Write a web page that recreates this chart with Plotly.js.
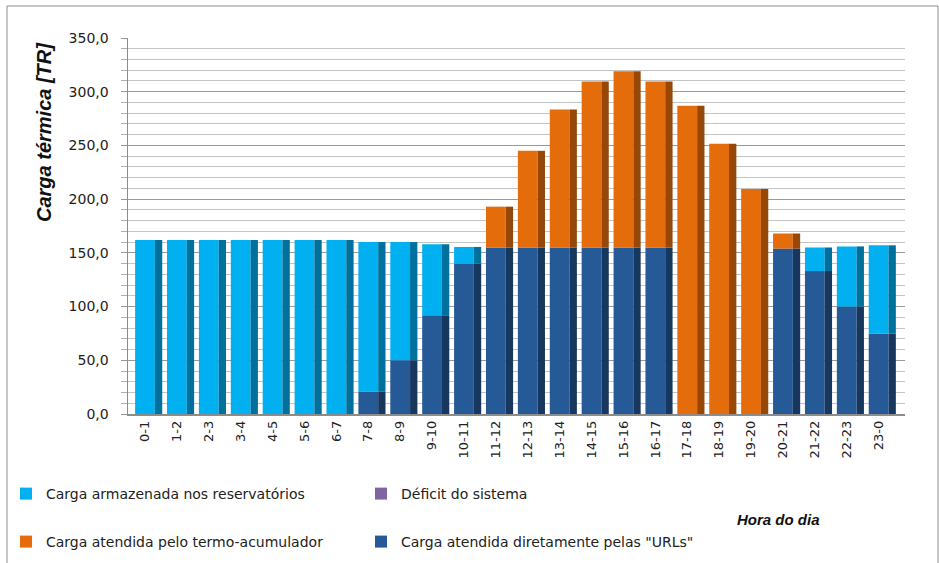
<!DOCTYPE html>
<html>
<head>
<meta charset="utf-8">
<script src="https://cdn.plot.ly/plotly-3.0.1.min.js"></script>
<style>
html,body{margin:0;padding:0;background:#fff;}
#chart{width:939px;height:563px;}
</style>
</head>
<body>
<div id="chart"></div>
<script>
// Data
const hours = ["0-1","1-2","2-3","3-4","4-5","5-6","6-7","7-8","8-9","9-10","10-11","11-12",
  "12-13","13-14","14-15","15-16","16-17","17-18","18-19","19-20","20-21","21-22","22-23","23-0"];
const cargaURLs = [0,0,0,0,0,0,0,21,50,92,140,155,155,155,155,155,155,0,0,0,154,133,100,75];
const cargaTermo = [0,0,0,0,0,0,0,0,0,0,0,38,90,128.5,154.5,164,154.5,287,251.5,209.5,14,0,0,0];
const cargaArmazenada = [162,162,162,162,162,162,162,139,110,66,15.5,0,0,0,0,0,0,0,0,0,0,22,56,82];
const deficit = [0,0,0,0,0,0,0,0,0,0,0,0,0,0,0,0,0,0,0,0,0,0,0,0];

const names = {
  arm: "Carga armazenada nos reservatórios",
  def: "Déficit do sistema",
  termo: "Carga atendida pelo termo-acumulador",
  url: "Carga atendida diretamente pelas \"URLs\""
};

// cumulative bases (stack order: URLs, termo, armazenada, deficit)
const baseURL = hours.map(() => 0);
const baseTermo = cargaURLs.slice();
const baseArm = cargaURLs.map((v, i) => v + cargaTermo[i]);
const baseDef = baseArm.map((v, i) => v + cargaArmazenada[i]);

const FRONT_OFF = -0.31, FRONT_W = 0.62, SIDE_OFF = 0.31, SIDE_W = 0.23;

function pair(name, y, base, front, side, legend) {
  return [
    {type:'bar', x:hours, y:y, base:base, name:name, marker:{color:front, line:{width:0}},
     offset:FRONT_OFF, width:FRONT_W, legend:legend, hoverinfo:'x+y+name'},
    {type:'bar', x:hours, y:y, base:base, name:name, marker:{color:side, line:{width:0}},
     offset:SIDE_OFF, width:SIDE_W, showlegend:false, hoverinfo:'skip'}
  ];
}

const traces = [].concat(
  pair(names.url, cargaURLs, baseURL, '#255A96', '#17375E', 'legend2'),
  pair(names.termo, cargaTermo, baseTermo, '#E46C0A', '#974806', 'legend2'),
  pair(names.arm, cargaArmazenada, baseArm, '#00B0F0', '#00719C', 'legend'),
  pair(names.def, deficit, baseDef, '#8064A2', '#5C4776', 'legend')
);

// legend ordering: row1 armazenada then deficit; row2 termo then URLs
traces[4].legendrank = 1; traces[6].legendrank = 2;
traces[2].legendrank = 1; traces[0].legendrank = 2;

const legendFont = {family:'DejaVu Sans, Liberation Sans, sans-serif', size:14, color:'#222'};

const layout = {
  width:939, height:563,
  margin:{l:128, r:34, t:38, b:149, autoexpand:false},
  paper_bgcolor:'#fff', plot_bgcolor:'#fff',
  barmode:'overlay',
  separators:',.',
  showlegend:true,
  xaxis:{
    type:'category', range:[-0.533, 23.827],
    tickangle:-90, ticks:'', showgrid:false,
    showline:true, linecolor:'#8c8c8c', linewidth:1.5,
    tickfont:{family:'DejaVu Sans, sans-serif', size:13, color:'#222'},
    fixedrange:true
  },
  yaxis:{
    range:[0,350], dtick:50, tickformat:'.1f',
    showgrid:true, gridcolor:'#9a9a9a', gridwidth:1,
    minor:{dtick:10, showgrid:true, gridcolor:'#c4c4c4', ticks:'outside', ticklen:6, tickcolor:'#b0b0b0'},
    ticks:'outside', ticklen:6, tickcolor:'#9a9a9a',
    ticklabelstandoff:9,
    showline:true, linecolor:'#8c8c8c', linewidth:1.5,
    zeroline:false,
    tickfont:{family:'DejaVu Sans, sans-serif', size:14, color:'#222'},
    fixedrange:true
  },
  legend:{
    orientation:'h', xref:'container', yref:'container', x:6/939, xanchor:'left', y:1-494/563, yanchor:'middle',
    entrywidth:310, entrywidthmode:'pixels', traceorder:'normal',
    font:legendFont, bgcolor:'rgba(0,0,0,0)'
  },
  legend2:{
    orientation:'h', xref:'container', yref:'container', x:6/939, xanchor:'left', y:1-542/563, yanchor:'middle',
    entrywidth:310, entrywidthmode:'pixels', traceorder:'normal',
    font:legendFont, bgcolor:'rgba(0,0,0,0)'
  },
  annotations:[
    {text:'Carga térmica [TR]', xref:'paper', yref:'paper', x:(44-128)/777, y:(414-132)/376,
     xanchor:'center', yanchor:'middle', textangle:-90, showarrow:false,
     font:{family:'Liberation Sans, Arial, sans-serif', size:20, color:'#111', weight:'bold', style:'italic'}},
    {text:'Hora do dia', xref:'paper', yref:'paper', x:(778-128)/777, y:(414-519)/376,
     xanchor:'center', yanchor:'middle', showarrow:false,
     font:{family:'Liberation Sans, Arial, sans-serif', size:15, color:'#111', weight:'bold', style:'italic'}}
  ],
  shapes:[
    {type:'rect', xref:'paper', yref:'paper', x0:(7-128)/777, x1:(938-128)/777,
     y0:(414-600)/376, y1:(414-6)/376, line:{color:'#8c8c8c', width:1}, fillcolor:'rgba(0,0,0,0)', layer:'below'}
  ]
};

Plotly.newPlot('chart', traces, layout, {displayModeBar:false, staticPlot:true});
</script>
</body>
</html>
